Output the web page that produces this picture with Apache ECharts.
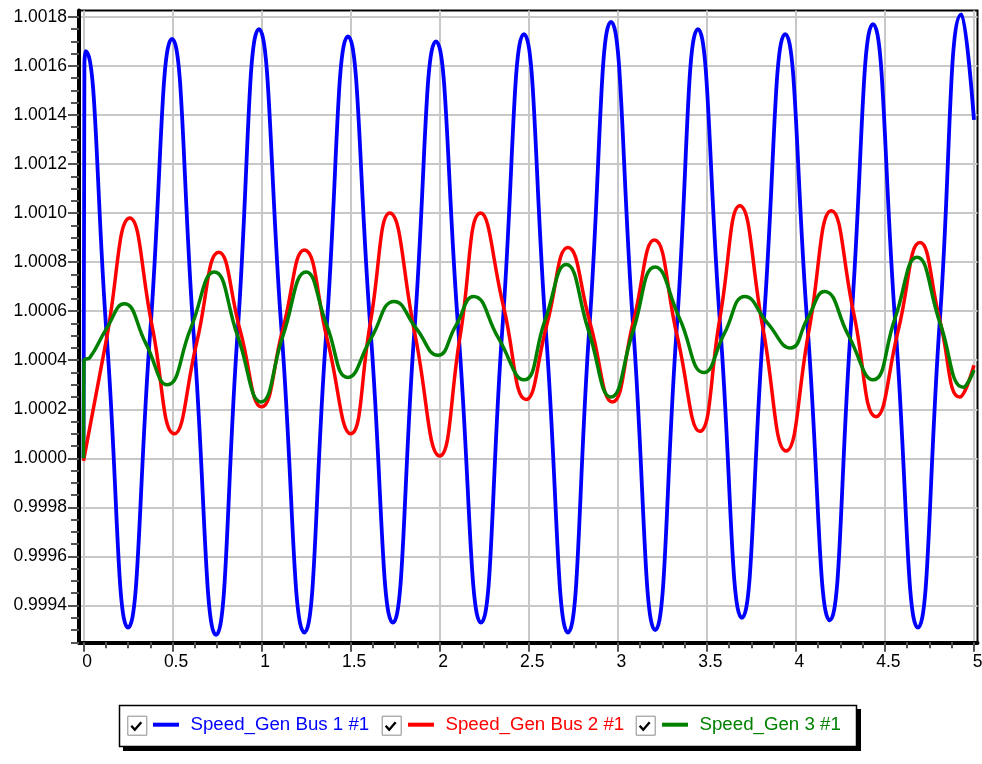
<!DOCTYPE html>
<html>
<head>
<meta charset="utf-8">
<style>
  html, body { margin: 0; padding: 0; background: #ffffff; }
  #chart { width: 982px; height: 764px; }
</style>
<script src="https://cdn.jsdelivr.net/npm/echarts@6/dist/echarts.min.js"></script>
</head>
<body>
<div id="chart"></div>
<script>
// ---- data ----
const seriesNames = ['Speed_Gen Bus 1 #1', 'Speed_Gen Bus 2 #1', 'Speed_Gen 3 #1'];
const seriesColors = ['#0000ff', '#ff0000', '#008000'];

const bus1Points = [
  [0, 1.0000], [0.005, 1.00160], [0.012, 1.00166], [0.131, 1.00049], [0.250, 0.99931],
  [0.374, 1.00051], [0.497, 1.00171], [0.620, 1.00049], [0.744, 0.99928], [0.865, 1.00051],
  [0.985, 1.00175], [1.112, 1.00052], [1.240, 0.99929], [1.362, 1.00050], [1.485, 1.00172],
  [1.611, 1.00053], [1.737, 0.99933], [1.858, 1.00052], [1.979, 1.00170], [2.105, 1.00052],
  [2.232, 0.99933], [2.352, 1.00053], [2.473, 1.00173], [2.597, 1.00051], [2.720, 0.99929],
  [2.841, 1.00054], [2.962, 1.00178], [3.086, 1.00054], [3.210, 0.99930], [3.330, 1.00052],
  [3.450, 1.00175], [3.574, 1.00055], [3.697, 0.99935], [3.818, 1.00054], [3.940, 1.00173],
  [4.065, 1.00054], [4.190, 0.99934], [4.311, 1.00056], [4.433, 1.00177], [4.559, 1.00054],
  [4.685, 0.99931], [4.808, 1.00056], [4.930, 1.00181], [5.000, 1.00138]
];

const bus2Points = [
  [0, 0.99999], [0.13, 1.00049], [0.26, 1.00098], [0.385, 1.00054], [0.51, 1.00010],
  [0.635, 1.00047], [0.76, 1.00084], [0.88, 1.00052], [1.00, 1.00021], [1.12, 1.00053],
  [1.24, 1.00085], [1.37, 1.00048], [1.50, 1.00010], [1.61, 1.00055], [1.72, 1.00100],
  [1.86, 1.00051], [2.00, 1.00001], [2.115, 1.00050], [2.23, 1.00100], [2.358, 1.00062],
  [2.485, 1.00024], [2.603, 1.00055], [2.72, 1.00086], [2.845, 1.00055], [2.97, 1.00023],
  [3.088, 1.00056], [3.205, 1.00089], [3.333, 1.00050], [3.46, 1.00011], [3.573, 1.00057],
  [3.685, 1.00103], [3.815, 1.00053], [3.945, 1.00003], [4.073, 1.00052], [4.20, 1.00101],
  [4.325, 1.00059], [4.45, 1.00017], [4.574, 1.00052], [4.697, 1.00088], [4.809, 1.00056],
  [4.92, 1.00025], [5.00, 1.00038]
];

const gen3Points = [
  [0, 1.0000], [0.003, 1.00040], [0.035, 1.00041], [0.13, 1.00053], [0.228, 1.00063],
  [0.349, 1.00047], [0.47, 1.00030], [0.602, 1.00053], [0.734, 1.00076], [0.865, 1.00050],
  [0.997, 1.00023], [1.12, 1.00050], [1.25, 1.00076], [1.367, 1.00054], [1.485, 1.00033],
  [1.615, 1.00049], [1.745, 1.00064], [1.868, 1.00053], [1.99, 1.00042], [2.09, 1.00054],
  [2.19, 1.00066], [2.33, 1.00049], [2.473, 1.00032], [2.59, 1.00056], [2.71, 1.00079],
  [2.836, 1.00052], [2.962, 1.00025], [3.086, 1.00052], [3.21, 1.00078], [3.347, 1.00057],
  [3.484, 1.00035], [3.599, 1.00051], [3.714, 1.00066], [3.842, 1.00055], [3.97, 1.00045],
  [4.065, 1.00057], [4.16, 1.00068], [4.296, 1.00050], [4.433, 1.00032], [4.556, 1.00057],
  [4.68, 1.00082], [4.81, 1.00055], [4.94, 1.00029], [5.00, 1.00036]
];

// ---- tick labels ----
const xMajorTicks = [0, 0.5, 1, 1.5, 2, 2.5, 3, 3.5, 4, 4.5, 5];
const yMajorTicks = [0.9994, 0.9996, 0.9998, 1.0000, 1.0002, 1.0004, 1.0006, 1.0008,
                     1.0010, 1.0012, 1.0014, 1.0016, 1.0018];
const xMinorTicks = [];
for (let i = 0; i <= 40; i++) { if (i % 4 !== 0) xMinorTicks.push(i * 0.125); }
const yMinorTicks = [];
for (let i = 0; i <= 51; i++) {
  if ((i - 3) % 4 !== 0) yMinorTicks.push(Math.round((0.99925 + i * 0.00005) * 1e6) / 1e6);
}

const X_MIN = -0.0253, X_MAX = 5.0197;
const Y_MIN = 0.99925, Y_MAX = 1.001826;
const FONT = 'Liberation Sans, Arial, sans-serif';

const chart = echarts.init(document.getElementById('chart'), null, { renderer: 'canvas' });

function legendFor(i, left) {
  return {
    show: true,
    data: [{ name: seriesNames[i], icon: 'rect', textStyle: { color: seriesColors[i] } }],
    left: left, top: 715.2, padding: 0,
    itemWidth: 26, itemHeight: 4,
    selectedMode: false,
    textStyle: { fontFamily: FONT, fontSize: 18.7, color: seriesColors[i], padding: [0, 0, 0, 6.5] }
  };
}

function checkbox(x, y) {
  return [
    { type: 'rect', z: 20, shape: { x: x + 0.5, y: y + 0.5, width: 19, height: 19 },
      style: { fill: '#ffffff', stroke: '#8c8c8c', lineWidth: 1 } },
    { type: 'polyline', z: 21, shape: { points: [[x + 4, y + 10], [x + 7.5, y + 14], [x + 14, y + 6.5]] },
      style: { fill: null, stroke: '#000000', lineWidth: 2.4 } }
  ];
}

const option = {
  animation: false,
  backgroundColor: '#ffffff',
  grid: {
    left: 79, top: 10.5, right: 4.5, bottom: 121.7,
    containLabel: false, outerBoundsMode: 'none',
    show: true, borderColor: '#000000', borderWidth: 2, backgroundColor: '#ffffff'
  },
  xAxis: [
    {
      type: 'value', min: X_MIN, max: X_MAX, position: 'bottom',
      axisLine: { show: true, onZero: false, lineStyle: { color: '#000000', width: 4 } },
      axisTick: { show: true, customValues: xMajorTicks, length: 9.5, lineStyle: { color: '#555555', width: 2 } },
      axisLabel: { show: true, customValues: xMajorTicks, margin: 11, padding: [0, 0, 0, 7],
                   fontFamily: FONT, fontSize: 17.5, color: '#000000',
                   formatter: v => String(Math.round(v * 10) / 10) },
      splitLine: { show: true, lineStyle: { color: '#c8c8c8', width: 2 } }
    },
    {
      type: 'value', min: X_MIN, max: X_MAX, position: 'bottom',
      axisLine: { show: false, onZero: false },
      axisTick: { show: true, customValues: xMinorTicks, length: 6, lineStyle: { color: '#555555', width: 2 } },
      axisLabel: { show: false },
      splitLine: { show: false }
    }
  ],
  yAxis: [
    {
      type: 'value', min: Y_MIN, max: Y_MAX, position: 'left',
      axisLine: { show: true, onZero: false, lineStyle: { color: '#000000', width: 4 } },
      axisTick: { show: true, customValues: yMajorTicks, length: 11, lineStyle: { color: '#555555', width: 2 } },
      axisLabel: { show: true, customValues: yMajorTicks, margin: 12,
                   fontFamily: FONT, fontSize: 17.5, color: '#000000',
                   formatter: v => v.toFixed(4) },
      splitLine: { show: true, lineStyle: { color: '#c8c8c8', width: 2 } }
    },
    {
      type: 'value', min: Y_MIN, max: Y_MAX, position: 'left',
      axisLine: { show: false, onZero: false },
      axisTick: { show: true, customValues: yMinorTicks, length: 8, lineStyle: { color: '#555555', width: 2 } },
      axisLabel: { show: false },
      splitLine: { show: false }
    }
  ],
  legend: [legendFor(0, 153), legendFor(1, 408), legendFor(2, 662)],
  graphic: [
    { type: 'rect', z: 0, shape: { x: 123, y: 709, width: 738, height: 42 },
      style: { fill: '#000000' } },
    { type: 'rect', z: 1, shape: { x: 119.5, y: 705.5, width: 737, height: 41 },
      style: { fill: '#ffffff', stroke: '#000000', lineWidth: 1.5 } }
  ].concat(checkbox(127.3, 715.7), checkbox(381.7, 715.7), checkbox(635.7, 715.7)),
  series: [
    { name: seriesNames[0], type: 'line', data: bus1Points, smooth: true, showSymbol: false,
      xAxisIndex: 0, yAxisIndex: 0, color: seriesColors[0], z: 3,
      lineStyle: { color: seriesColors[0], width: 3.8 } },
    { name: seriesNames[1], type: 'line', data: bus2Points, smooth: true, showSymbol: false,
      xAxisIndex: 0, yAxisIndex: 0, color: seriesColors[1], z: 4,
      lineStyle: { color: seriesColors[1], width: 3.5 } },
    { name: seriesNames[2], type: 'line', data: gen3Points, smooth: true, showSymbol: false,
      xAxisIndex: 0, yAxisIndex: 0, color: seriesColors[2], z: 5,
      lineStyle: { color: seriesColors[2], width: 3.5 } }
  ]
};

chart.setOption(option);
</script>
</body>
</html>
